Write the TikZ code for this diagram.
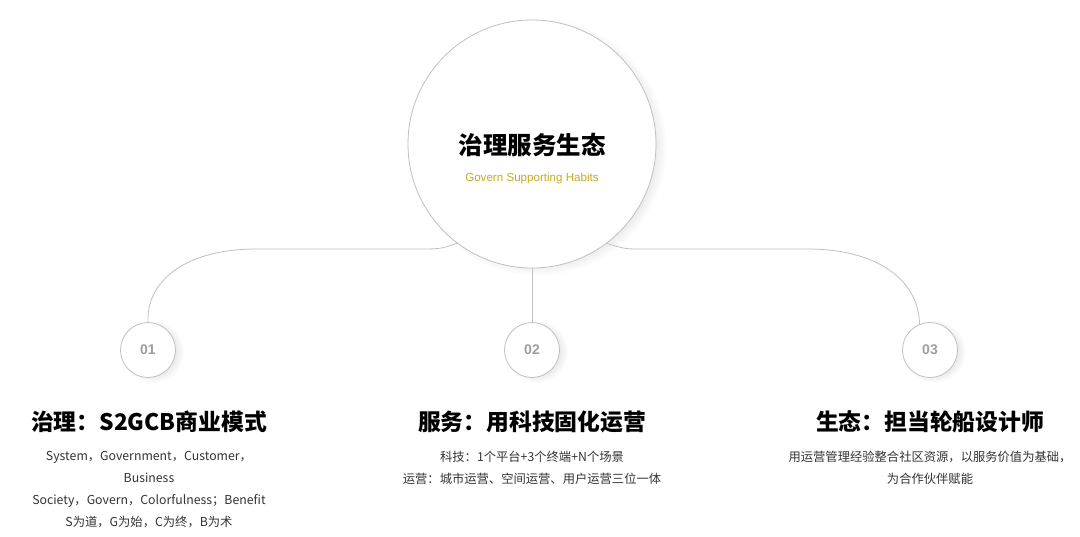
\documentclass[tikz,border=0pt]{standalone}
\usepackage{fontspec}
\setmainfont{Noto Sans CJK SC}
\newfontfamily\latinfont{Liberation Sans}
\usetikzlibrary{positioning}
\definecolor{G1}{RGB}{192,192,192}
\definecolor{G2}{RGB}{158,158,158}
\definecolor{T1}{RGB}{51,51,51}
\definecolor{Y1}{RGB}{200,168,30}

\begin{document}
\begin{tikzpicture}[x=1pt,y=-1pt,
    bigc/.style={circle,draw=G1,line width=0.8pt,fill=white,minimum size=248pt,inner sep=0pt},
    numc/.style={circle,draw=G1,line width=0.8pt,fill=white,minimum size=55pt,inner sep=0pt,
      text=G2,font=\latinfont\fontsize{14}{14}\selectfont\bfseries},
    link/.style={draw=G1,line width=0.8pt},
    halo/.style={fill=black,fill opacity=0.006},
    head/.style={font=\fontsize{22.8}{22.8}\selectfont\bfseries},
    body/.style={align=center,text=T1,font=\fontsize{12.3}{21.8}\selectfont}]
  \fill[white] (0,0) rectangle (1080,536);
  \useasboundingbox (0,0) rectangle (1080,536);
  % soft shadows
  \foreach \r in {0,2,...,18} {
    \fill[halo] (538,147) circle[radius=124+\r*0.6-6];
    \foreach \x in {148,532,930}
      \fill[halo] (\x+5,352) circle[radius=28+\r*0.4-4];
  }
  % circles
  \node[bigc] (core) at (532,144) {};
  \node[numc] (c1) at (148,350) {01};
  \node[numc] (c2) at (532,350) {02};
  \node[numc] (c3) at (930,350) {03};
  % links
  \draw[link] (core.233) .. controls (440,249) .. (417,249) -- (257,249)
    .. controls (180,249) and (146,285) .. (c1.north);
  \draw[link] (core.south) -- (c2.north);
  \draw[link] (core.307) .. controls (625,249) .. (643,249) -- (807,249)
    .. controls (884,249) and (919,285) .. (c3.112);
  % centre text
  \node[font=\fontsize{24.5}{24.5}\selectfont\bfseries] (ttl) at (532,145) {治理服务生态};
  \node[text=Y1,font=\latinfont\fontsize{11.6}{11.6}\selectfont] (sub) at (532,178) {Govern Supporting Habits};
  % headings
  \node[head] (h1) at (149,422) {治理：S2GCB商业模式};
  \node[head] (h2) at (532,422) {服务：用科技固化运营};
  \node[head] (h3) at (930,422) {生态：担当轮船设计师};
  % body
  \node[body,anchor=north] (b1) at (149,448) {System，Government，Customer，\\Business\\
    Society，Govern，Colorfulness；Benefit\\S为道，G为始，C为终，B为术};
  \node[body,anchor=north] (b2) at (532,448) {科技：1个平台+3个终端+N个场景\\运营：城市运营、空间运营、用户运营三位一体};
  \node[body,anchor=north] (b3) at (930,448) {用运营管理经验整合社区资源，以服务价值为基础，\\为合作伙伴赋能};
\end{tikzpicture}
\end{document}
